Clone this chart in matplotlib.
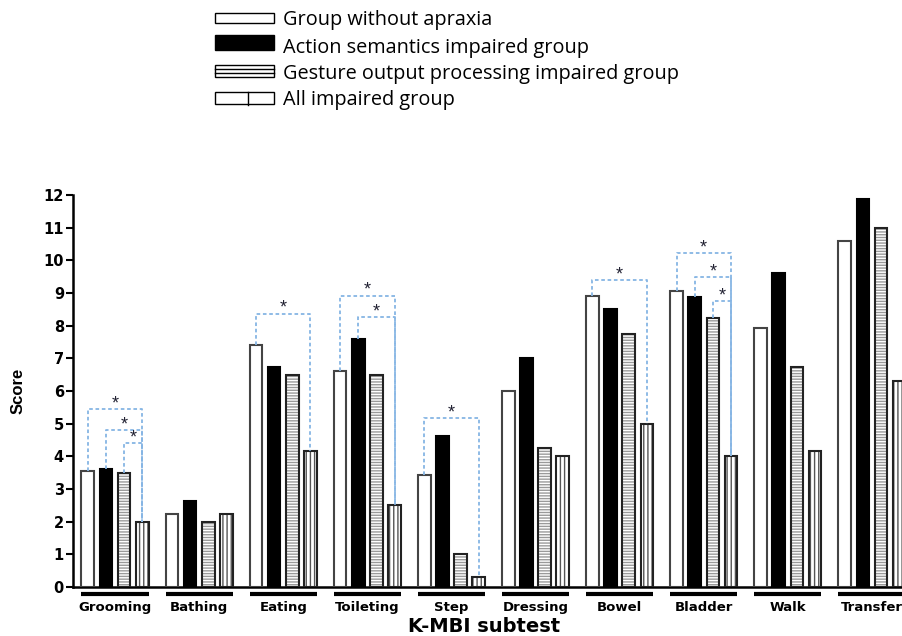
import matplotlib
matplotlib.use("Agg")
import matplotlib.pyplot as plt
from matplotlib.patches import Rectangle
from matplotlib.lines import Line2D
from matplotlib.transforms import Affine2D

# K-MBI subtest scores per group
subtests = ["Grooming", "Bathing", "Eating", "Toileting", "Step",
            "Dressing", "Bowel", "Bladder", "Walk", "Transfer"]
no_apraxia = [3.55, 2.25, 7.42, 6.62, 3.42, 6.0, 8.9, 9.05, 7.93, 10.6]
action_sem = [3.62, 2.62, 6.75, 7.6, 4.62, 7.0, 8.5, 8.88, 9.62, 11.88]
gesture_out = [3.5, 2.0, 6.5, 6.5, 1.0, 4.25, 7.75, 8.25, 6.75, 11.0]
all_impaired = [2.0, 2.25, 4.15, 2.5, 0.32, 4.0, 5.0, 4.0, 4.15, 6.3]

group_names = ["Group without apraxia", "Action semantics impaired group",
               "Gesture output processing impaired group", "All impaired group"]

# significance brackets: (subtest index, bar compared with "All impaired", bracket height)
brackets = [(0, 0, 5.45), (0, 1, 4.8), (0, 2, 4.4),
            (2, 0, 8.37),
            (3, 0, 8.92), (3, 1, 8.27),
            (4, 0, 5.17),
            (6, 0, 9.4),
            (7, 0, 10.21), (7, 1, 9.5), (7, 2, 8.76)]

W, H = 902, 636
fig = plt.figure(figsize=(W / 100, H / 100), dpi=100)
ax = fig.add_axes([73 / W, 49 / H, 841 / W, 392 / H])

plt.rcParams["hatch.linewidth"] = 1.0
tickfont = dict(family="DejaVu Sans", fontweight="bold")

series = [no_apraxia, action_sem, gesture_out, all_impaired]
fills = ["white", "black", "white", "white"]
hatches = [None, None, "------", "||||"]
hatch_cols = ["#444444", "black", "#9a9a9a", "#555555"]
edge_cols = ["#444444", "black", "#222222", "#222222"]
step = 0.216
width = 0.15
xs = list(range(len(subtests)))

for j, vals in enumerate(series):
    pos = [x + (j - 1.5) * step for x in xs]
    ax.bar(pos, vals, width, color=fills[j], hatch=hatches[j],
           edgecolor=hatch_cols[j], linewidth=0, zorder=2)
    ax.bar(pos, vals, width, fill=False, edgecolor=edge_cols[j],
           linewidth=1.5, zorder=3)

# dashed brackets with stars
for g, b, h in brackets:
    x1 = g + (b - 1.5) * step
    x2 = g + 1.5 * step
    y1 = series[b][g]
    y2 = all_impaired[g]
    ax.plot([x1, x1, x2, x2], [y1, h, h, y2], color="#86b5e4", lw=1.3,
            ls=(0, (2, 1.5)), zorder=4)
    ax.text((x1 + x2) / 2, h + 0.02, "*", ha="center", va="baseline",
            fontsize=13, family="Liberation Sans", color="#222233", zorder=5)

# group underlines below the baseline
for x in xs:
    ax.plot([x - 0.4, x + 0.4], [-0.22, -0.22], color="black", lw=3,
            solid_capstyle="butt", clip_on=False)

ax.set_xlim(-0.5, 9.5)
ax.set_ylim(0, 12)
ax.set_yticks(range(13))
ax.set_xticks(xs)
ax.set_xticklabels(subtests, fontsize=9.5, **tickfont)
for lab in ax.get_yticklabels():
    lab.set_fontsize(10.5)
    lab.set_family("DejaVu Sans")
    lab.set_fontweight("bold")
ax.tick_params(axis="x", length=0, pad=10)
ax.tick_params(axis="y", length=5, width=1.5, pad=1.5, direction="out")
for s in ["top", "right"]:
    ax.spines[s].set_visible(False)
ax.spines["left"].set_linewidth(1.8)
ax.spines["bottom"].set_linewidth(1.8)

ax.set_xlabel("K-MBI subtest", fontsize=14, va="center", **tickfont)
ax.xaxis.set_label_coords((484 - 73) / 841, (587 - 627) / 392)
ax.set_ylabel("Score", fontsize=12, va="center", family="Liberation Sans",
              fontweight="bold")
ax.yaxis.set_label_coords((18 - 73) / 841, 0.5)

# legend drawn in pixel coordinates at the top
pix = Affine2D().scale(1 / W, -1 / H).translate(0, 1) + fig.transFigure
boxes = [(13, 10), (35, 15), (65, 12), (92, 12)]
baselines = [25, 52.5, 79, 104.5]
for i, ((top, hgt), base) in enumerate(zip(boxes, baselines)):
    fc = "black" if i == 1 else "white"
    fig.add_artist(Rectangle((215, top), 59, hgt, transform=pix,
                             facecolor=fc, edgecolor="black", lw=1.0))
    if i == 2:
        for k in (1, 2):
            yy = top + hgt * k / 3
            fig.add_artist(Line2D([215, 274], [yy, yy], transform=pix,
                                  color="black", lw=1.0))
    if i == 3:
        fig.add_artist(Line2D([248, 248], [top, top + hgt + 1], transform=pix,
                              color="black", lw=1.0))
    fig.text(283 / W, 1 - base / H, group_names[i], fontsize=14.3,
             family="Open Sans", va="baseline", ha="left")

fig.savefig("out.png", dpi=100)
